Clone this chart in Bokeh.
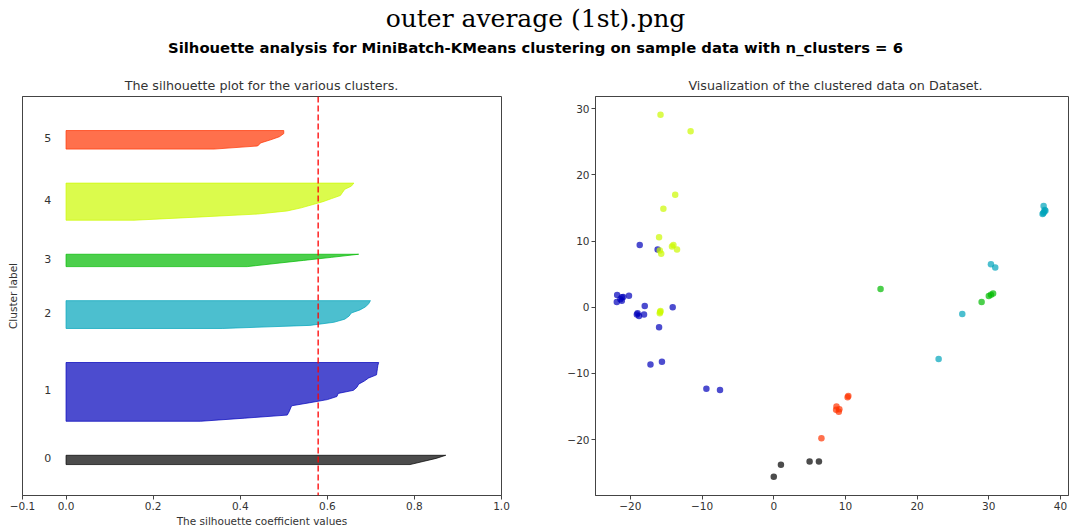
from bokeh.plotting import figure
from bokeh.layouts import column, row
from bokeh.models import Range1d, FixedTicker, Span
from bokeh.core.properties import value
from bokeh.embed import file_html
from bokeh.resources import INLINE

# ---------------- data ----------------
main_title = "outer average (1st).png"
sub_title = "Silhouette analysis for MiniBatch-KMeans clustering on sample data with n_clusters = 6"
left_title = "The silhouette plot for the various clusters."
right_title = "Visualization of the clustered data on Dataset."
left_xlabel = "The silhouette coefficient values"
left_ylabel = "Cluster label"

cluster_ids = [0, 1, 2, 3, 4, 5]
cluster_colors = ["#000000", "#0000bb", "#00a4bb", "#00bb00", "#ccf900", "#ff3300"]
silhouette_avg = 0.579

# sorted silhouette values per cluster (ascending)
sil_0 = [0.79, 0.82, 0.85, 0.872]
sil_1 = [0.309, 0.41, 0.508, 0.512, 0.515, 0.518, 0.56, 0.60, 0.622, 0.625,
         0.66, 0.668, 0.672, 0.685, 0.695, 0.713, 0.714, 0.715, 0.716, 0.718]
sil_2 = [0.36, 0.56, 0.615, 0.64, 0.65, 0.655, 0.675, 0.688, 0.695, 0.699]
sil_3 = [0.416, 0.48, 0.545, 0.61, 0.672]
sil_4 = [0.156, 0.30, 0.44, 0.508, 0.54, 0.565, 0.59, 0.61, 0.63, 0.635, 0.64, 0.655, 0.661]
sil_5 = [0.34, 0.44, 0.447, 0.47, 0.49, 0.50, 0.50]
sil_values = [sil_0, sil_1, sil_2, sil_3, sil_4, sil_5]

# scatter points per cluster
x_0 = [0.0, 1.0, 5.0, 6.3]
y_0 = [-25.6, -23.8, -23.3, -23.3]
x_1 = [-18.7, -16.2, -21.85, -20.2, -21.9, -21.4, -21.2, -21.0, -21.2, -18.0,
       -14.1, -19.0, -18.8, -19.1, -18.1, -16.0, -17.2, -15.6, -9.4, -7.5]
y_1 = [9.4, 8.75, 1.85, 1.75, 0.8, 1.2, 1.5, 1.55, 1.0, 0.2,
       0.0, -0.9, -1.3, -1.1, -1.1, -3.0, -8.65, -8.25, -12.3, -12.5]
x_2 = [37.65, 37.6, 37.7, 37.8, 37.9, 37.5, 30.3, 30.9, 26.3, 23.0]
y_2 = [15.3, 14.2, 14.4, 14.7, 14.6, 14.1, 6.5, 6.0, -1.0, -7.8]
x_3 = [14.9, 29.0, 30.0, 30.3, 30.6]
y_3 = [2.75, 0.8, 1.7, 1.9, 2.1]
x_4 = [-15.8, -11.6, -13.75, -15.4, -16.0, -14.0, -14.2, -13.5, -15.7, -15.9,
       -15.8, -15.9, -15.85]
y_4 = [29.1, 26.6, 17.0, 14.9, 10.6, 9.4, 9.2, 8.75, 8.1, 8.6,
       -0.56, -0.9, -0.7]
x_5 = [10.3, 10.4, 8.75, 8.7, 9.15, 9.07, 6.65]
y_5 = [-13.6, -13.4, -15.0, -15.5, -15.4, -15.8, -19.8]
scatter_x = [x_0, x_1, x_2, x_3, x_4, x_5]
scatter_y = [y_0, y_1, y_2, y_3, y_4, y_5]

left_xticks = [-0.1, 0.0, 0.2, 0.4, 0.6, 0.8, 1.0]
right_xticks = [-20, -10, 0, 10, 20, 30, 40]
right_yticks = [-20, -10, 0, 10, 20, 30]

FONT = "DejaVu Sans"
TXT = "#333333"


def fmt(v, dec):
    s = f"{abs(v):.{dec}f}"
    return ("\u2212" + s) if v < 0 else s


def style_axes(p):
    p.grid.visible = False
    p.outline_line_color = "#444444"
    p.outline_line_width = 1
    for ax in p.xaxis + p.yaxis:
        ax.axis_line_color = "#444444"
        ax.major_tick_line_color = "#444444"
        ax.minor_tick_line_color = None
        ax.major_tick_in = 0
        ax.major_tick_out = 4
        ax.major_label_text_font = FONT
        ax.major_label_text_font_size = "10.5px"
        ax.major_label_text_color = TXT
        ax.major_label_standoff = 2
        ax.axis_label_text_font = FONT
        ax.axis_label_text_font_size = "10.5px"
        ax.axis_label_text_font_style = "normal"
        ax.axis_label_text_color = TXT
        ax.axis_label_standoff = 2


# ---------------- header ----------------
HEAD_H = 95
header = figure(width=1069, height=HEAD_H, x_range=Range1d(0, 1069), y_range=Range1d(HEAD_H, 0),
                min_border=0, toolbar_location=None, output_backend="svg")
header.axis.visible = False
header.grid.visible = False
header.outline_line_color = None
header.text(x=[535], y=[18], text=[main_title], text_align="center", text_baseline="middle",
            text_font=value("DejaVu Serif"), text_font_size="25px", text_color="#000000")
header.text(x=[535], y=[47], text=[sub_title], text_align="center", text_baseline="middle",
            text_font=value(FONT), text_font_size="14.8px", text_font_style="bold", text_color="#000000")
header.text(x=[261], y=[85], text=[left_title], text_align="center", text_baseline="middle",
            text_font=value(FONT), text_font_size="12.7px", text_color=TXT)
header.text(x=[835], y=[85], text=[right_title], text_align="center", text_baseline="middle",
            text_font=value(FONT), text_font_size="12.7px", text_color=TXT)

# ---------------- left: silhouette ----------------
n_total = sum(len(v) for v in sil_values)
ymax = n_total + (len(cluster_ids) + 1) * 10
PH = 529 - HEAD_H
left = figure(width=560, height=PH, x_range=Range1d(-0.1, 1.0), y_range=Range1d(0, ymax),
              min_border_left=22, min_border_right=59, min_border_top=1, min_border_bottom=33,
              toolbar_location=None, output_backend="svg")
style_axes(left)
left.xaxis.ticker = FixedTicker(ticks=left_xticks)
left.xaxis.major_label_overrides = {t: fmt(t, 1) for t in left_xticks}
left.xaxis.axis_label = left_xlabel
left.yaxis.ticker = FixedTicker(ticks=[])
left.yaxis.major_tick_out = 0
left.yaxis.major_label_standoff = 0
left.yaxis.axis_label = left_ylabel
left.yaxis.axis_label_standoff = 4

y_lower = 10
label_x, label_y, label_t = [], [], []
for cid, vals, col in zip(cluster_ids, sil_values, cluster_colors):
    n = len(vals)
    ys = list(range(y_lower, y_lower + n))
    px = [0.0] + vals + [0.0]
    py = [ys[0]] + ys + [ys[-1]]
    left.patch(px, py, fill_color=col, line_color=col, fill_alpha=0.7, line_alpha=0.7, line_width=1)
    label_x.append(-0.05)
    label_y.append(y_lower + 0.5 * n)
    label_t.append(str(cid))
    y_lower = y_lower + n + 10

left.text(x=label_x, y=label_y, text=label_t, text_align="left", text_baseline="alphabetic",
          text_font=value(FONT), text_font_size="11px", text_color=TXT)
left.add_layout(Span(location=silhouette_avg, dimension="height", line_color="#ff0000",
                     line_dash="6 3", line_width=1.6, line_alpha=0.8))

# ---------------- right: scatter ----------------
right = figure(width=1069 - 560, height=PH, x_range=Range1d(-24.87, 41.12), y_range=Range1d(-28.45, 31.86),
               min_border_left=35, min_border_right=1, min_border_top=1, min_border_bottom=33,
               toolbar_location=None, output_backend="svg")
style_axes(right)
right.xaxis.ticker = FixedTicker(ticks=right_xticks)
right.xaxis.major_label_overrides = {t: fmt(t, 0) for t in right_xticks}
right.yaxis.ticker = FixedTicker(ticks=right_yticks)
right.yaxis.major_label_overrides = {t: fmt(t, 0) for t in right_yticks}
right.xaxis.axis_label = None

for xs, ys, col in zip(scatter_x, scatter_y, cluster_colors):
    right.scatter(xs, ys, size=6.5, fill_color=col, fill_alpha=0.7, line_color=None)

layout = column(header, row(left, right, spacing=0), spacing=0)
open("out.html", "w").write(file_html(layout, INLINE))
